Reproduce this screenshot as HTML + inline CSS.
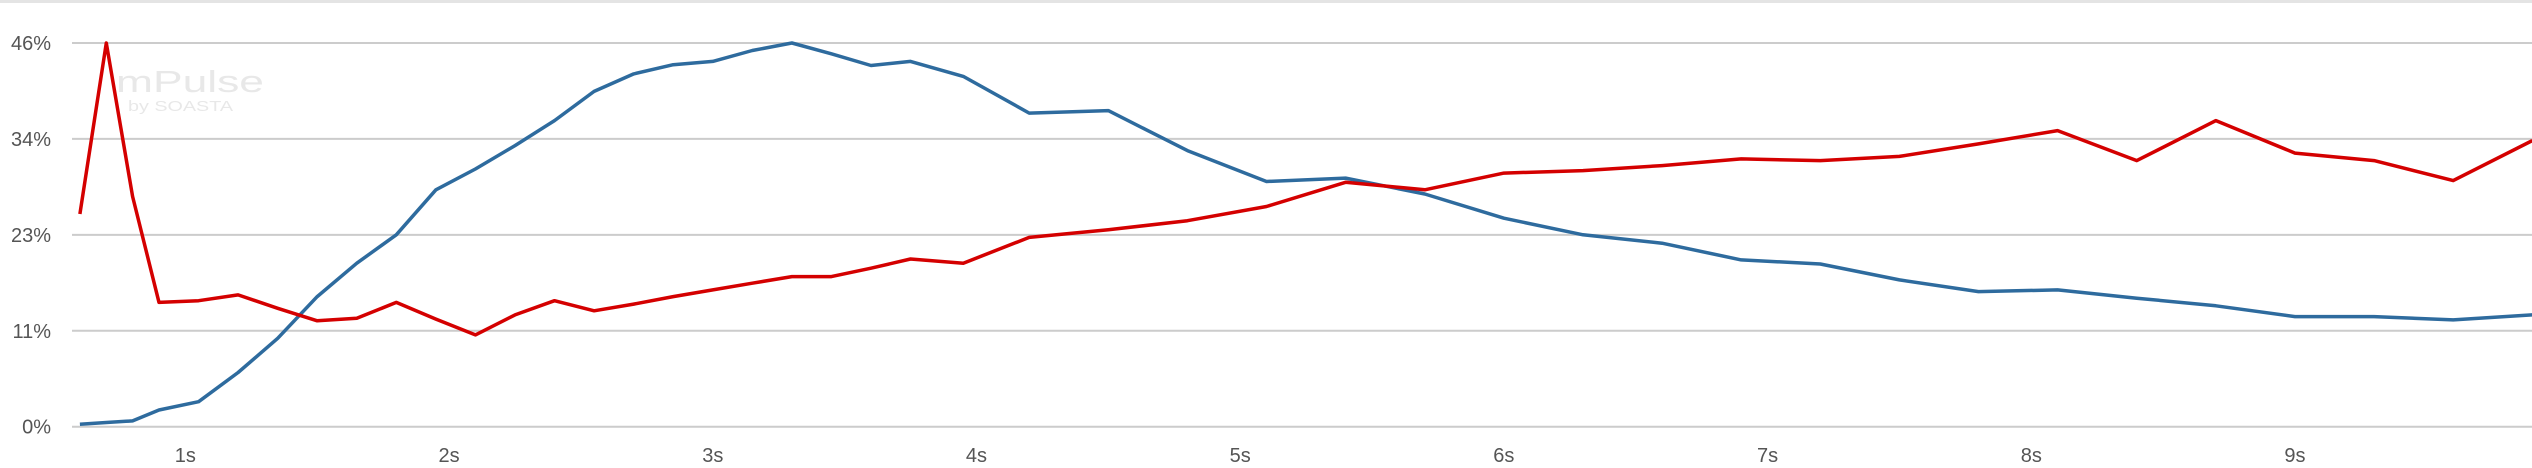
<!DOCTYPE html>
<html><head><meta charset="utf-8"><style>
html,body{margin:0;padding:0;background:#fff;}
svg{display:block;}
text{font-family:"Liberation Sans",sans-serif;}
</style></head><body>
<svg id="chart" width="2532" height="468" viewBox="0 0 2532 468" xmlns="http://www.w3.org/2000/svg">
<rect x="0" y="0" width="2532" height="3" fill="#e4e4e4"/>
<g>
<text x="116" y="92" font-size="31" fill="#e8e8e8" textLength="148" lengthAdjust="spacingAndGlyphs">mPulse</text>
<text x="128" y="111" font-size="15" fill="#e8e8e8" textLength="105" lengthAdjust="spacingAndGlyphs">by SOASTA</text>
</g>
<g id="grid"></g>
<g id="yaxis"></g>
<g id="xaxis"></g>
<g id="series"></g>
</svg>
<script>
const times = [0.6,0.7,0.8,0.9,1.05,1.2,1.35,1.5,1.65,1.8,1.95,2.1,2.25,2.4,2.55,2.7,2.85,3.0,3.15,3.3,3.45,3.6,3.75,3.95,4.2,4.5,4.8,5.1,5.4,5.7,6.0,6.3,6.6,6.9,7.2,7.5,7.8,8.1,8.4,8.7,9.0,9.3,9.6,9.9];
const redValues = [25.5,46,27.6,14.9,15.1,15.8,14.2,12.7,13.0,14.9,12.9,11.0,13.4,15.1,13.9,14.7,15.6,16.4,17.2,18.0,18.0,19.0,20.1,19.6,22.7,23.6,24.7,26.4,29.3,28.4,30.4,30.7,31.3,32.1,31.9,32.4,33.9,35.5,31.9,36.7,32.8,31.9,29.5,34.3];
const blueValues = [0.3,0.5,0.7,2.0,3.0,6.5,10.6,15.6,19.6,23.0,28.4,30.9,33.7,36.7,40.2,42.3,43.4,43.8,45.1,46.0,44.7,43.3,43.8,42.0,37.6,37.9,33.1,29.4,29.8,27.9,25.0,23.0,22.0,20.0,19.5,17.6,16.2,16.4,15.4,14.5,13.2,13.2,12.8,13.4];
const yTicks = [0,11.5,23,34.5,46];
const yTickLabels = ["0%","11%","23%","34%","46%"];
const xTicks = [1,2,3,4,5,6,7,8,9];
const xTickLabels = ["1s","2s","3s","4s","5s","6s","7s","8s","9s"];

const NS = "http://www.w3.org/2000/svg";
function xs(t){ return 159 + (t - 0.9) * 263.7; }
function ys(v){ return 426.7 - v / 46 * 383.7; }

const grid = document.getElementById('grid');
const yaxis = document.getElementById('yaxis');
yTicks.forEach((v,i)=>{
  const l = document.createElementNS(NS,'line');
  l.setAttribute('x1',72); l.setAttribute('x2',2532);
  l.setAttribute('y1',ys(v)); l.setAttribute('y2',ys(v));
  l.setAttribute('stroke','#cccccc'); l.setAttribute('stroke-width','2');
  
  
  grid.appendChild(l);
  const t = document.createElementNS(NS,'text');
  t.setAttribute('x',51); t.setAttribute('y',ys(v)+7);
  t.setAttribute('text-anchor','end'); t.setAttribute('font-size','20'); t.setAttribute('fill','#555');
  t.textContent = yTickLabels[i];
  
  
  yaxis.appendChild(t);
});
const xaxis = document.getElementById('xaxis');
xTicks.forEach((v,i)=>{
  const t = document.createElementNS(NS,'text');
  t.setAttribute('x',xs(v)); t.setAttribute('y',462);
  t.setAttribute('text-anchor','middle'); t.setAttribute('font-size','20'); t.setAttribute('fill','#555');
  t.textContent = xTickLabels[i];
  
  
  xaxis.appendChild(t);
});
const series = document.getElementById('series');
function drawLine(vals,color,name){
  const p = document.createElementNS(NS,'polyline');
  p.setAttribute('points', vals.map((v,i)=>xs(times[i]).toFixed(1)+','+ys(v).toFixed(1)).join(' '));
  p.setAttribute('fill','none'); p.setAttribute('stroke',color);
  p.setAttribute('stroke-width','3.5'); p.setAttribute('stroke-linejoin','round');
  
  
  series.appendChild(p);
}
drawLine(blueValues,'#2e6b9e','blue-series-line');
drawLine(redValues,'#d40000','red-series-line');
</script>
</body></html>
